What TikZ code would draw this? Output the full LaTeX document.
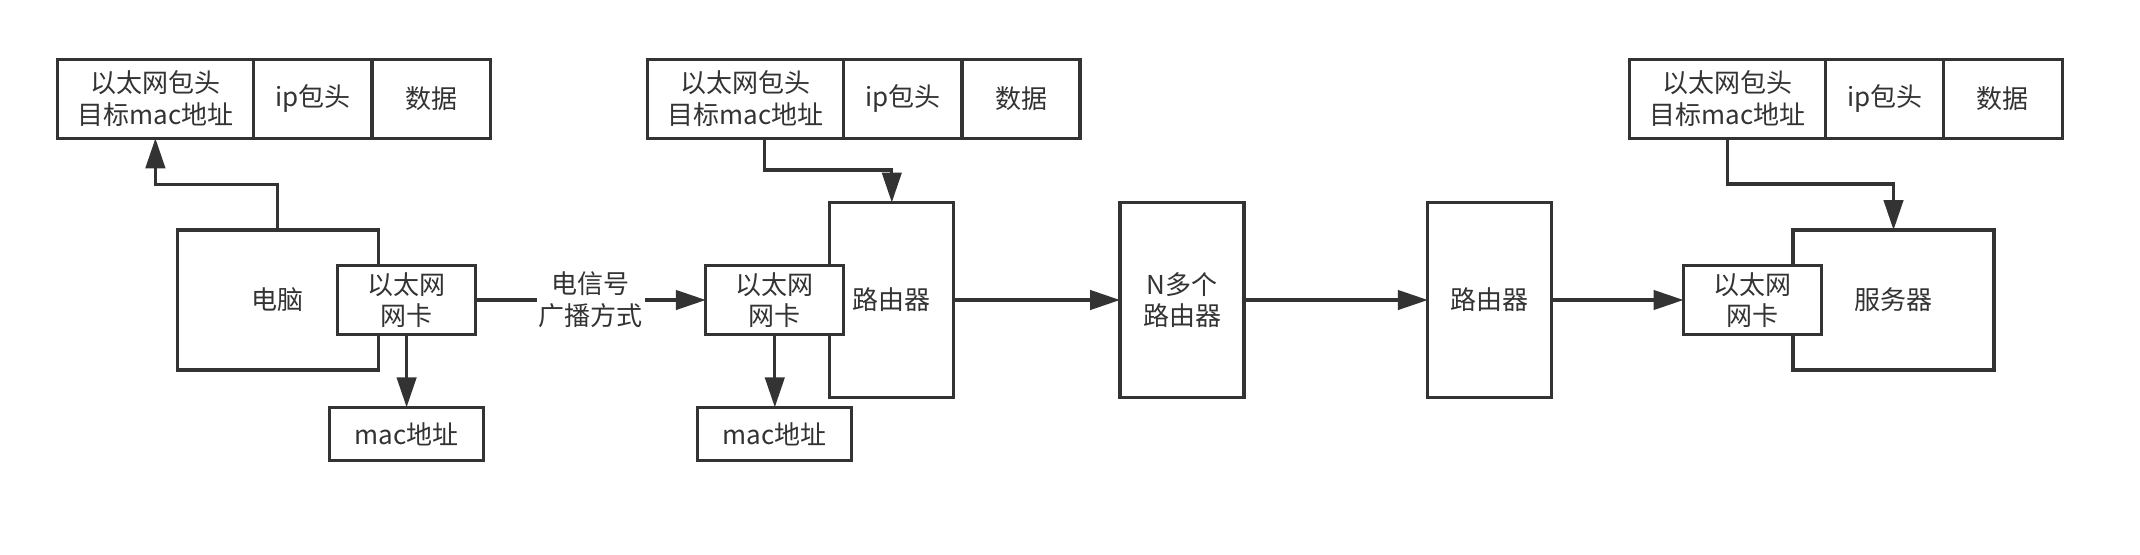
\documentclass[tikz,border=0pt]{standalone}
\usepackage{fontspec}
\newfontfamily\cjk{Noto Sans CJK SC}
\usetikzlibrary{shapes, arrows, positioning}
\usetikzlibrary{arrows.meta}
\definecolor{linegray}{HTML}{333333}

\begin{document}
\begin{tikzpicture}[x=1pt, y=1pt, font=\cjk\fontsize{13}{15.8}\selectfont, >={Triangle[length=15pt, width=9.7pt]}, line width=1.6pt, color=linegray]
    \useasboundingbox (0,0) rectangle (1070,277);

    % Styles
    \tikzstyle{box} = [draw, rectangle, fill=white, inner sep=0pt, outer sep=0pt, align=center]
    \tikzstyle{cell} = [box, minimum height=39.5pt]
    \tikzstyle{nic} = [box, minimum width=69pt, minimum height=34.3pt]
    \tikzstyle{host} = [box, minimum width=100.5pt, minimum height=70pt]
    \tikzstyle{router} = [box, minimum width=62pt, minimum height=97.5pt]
    \tikzstyle{macbox} = [box, minimum width=77pt, minimum height=26.7pt]

    % Nodes: sender
    \node (pc) [host] at (138.9,127) {电脑};
    \node (nic1) [nic] at (203.3,127) {以太网\\网卡};
    \node (mac1) [macbox, below=36.5pt of nic1] {mac地址};
    \node (eth1) [cell, minimum width=98pt] at (77.7,227.6) {以太网包头\\目标mac地址};
    \node (ip1) [cell, minimum width=59.3pt, right=0pt of eth1] {ip包头};
    \node (data1) [cell, minimum width=59.2pt, right=0pt of ip1] {数据};

    % Nodes: first router
    \node (router1) [router] at (445.9,127) {路由器};
    \node (nic2) [nic] at (387.4,127) {以太网\\网卡};
    \node (mac2) [macbox, below=36.5pt of nic2] {mac地址};
    \node (eth2) [cell, minimum width=98pt] at (372.8,227.6) {以太网包头\\目标mac地址};
    \node (ip2) [cell, minimum width=59.2pt, right=0pt of eth2] {ip包头};
    \node (data2) [cell, minimum width=59pt, right=0pt of ip2] {数据};

    % Nodes: path to server
    \node (nbox) [router] at (591,127) {N多个\\路由器};
    \node (router2) [router] at (744.9,127) {路由器};
    \node (server) [host] at (946.75,127) {服务器};
    \node (nic3) [nic] at (876.25,127) {以太网\\网卡};
    \node (eth3) [cell, minimum width=98.2pt] at (863.75,227.6) {以太网包头\\目标mac地址};
    \node (ip3) [cell, minimum width=59pt, right=0pt of eth3] {ip包头};
    \node (data3) [cell, minimum width=59.2pt, right=0pt of ip3] {数据};

    % Paths
    \draw [->] (pc.north) -- ++(0,22.85) -| (eth1.south);
    \draw [->] (nic1.south) -- (mac1.north);
    \draw [->] (nic1.east) -- node[fill=white, inner xsep=1pt, inner ysep=2pt, align=center] {电信号\\广播方式} (nic2.west);

    \draw [->] ([xshift=9.5pt]eth2.south) -- ++(0,-15.85) -| (router1.north);
    \draw [->] (nic2.south) -- (mac2.north);

    \draw [->] (router1.east) -- (nbox.west);
    \draw [->] (nbox.east) -- (router2.west);
    \draw [->] (router2.east) -- (nic3.west);

    \draw [->] (eth3.south) -- ++(0,-22.85) -| (server.north);

\end{tikzpicture}
\end{document}
